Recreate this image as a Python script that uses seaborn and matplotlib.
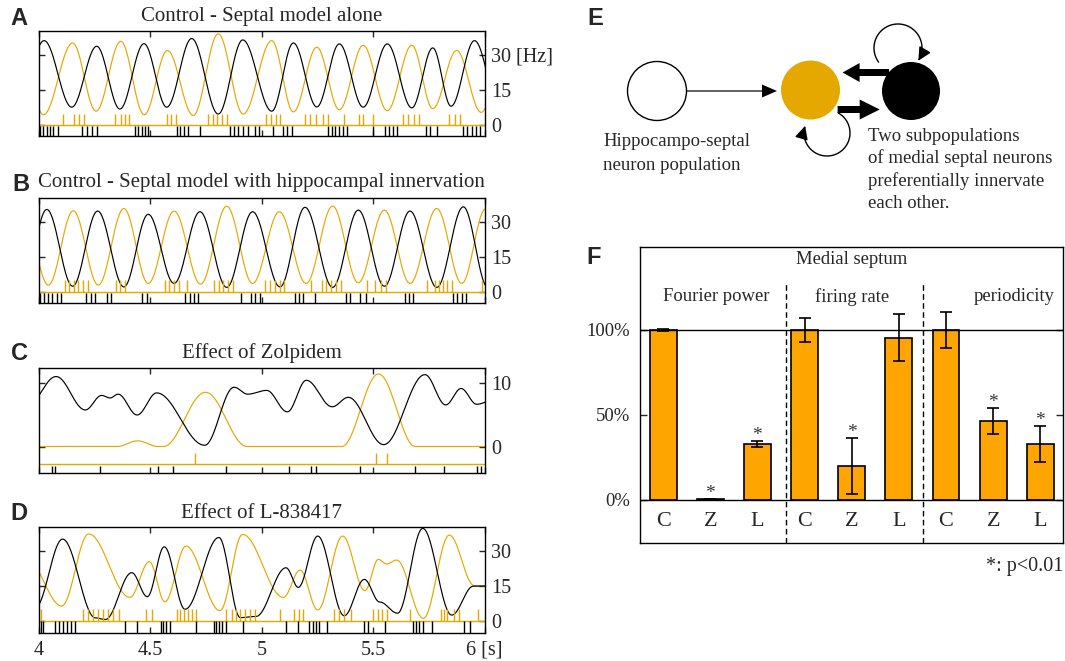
import numpy as np
import matplotlib
matplotlib.use("Agg")
import matplotlib.pyplot as plt
import seaborn as sns
from matplotlib.patches import Circle, FancyArrow, FancyArrowPatch
from matplotlib.path import Path

# ------------------------------------------------------------------ data
# rate curves: extrema (time [s], rate [Hz])
A_black_t = [3.905, 4.025, 4.149, 4.261, 4.365, 4.473, 4.575, 4.687, 4.806, 4.916, 5.046, 5.143, 5.248, 5.349, 5.456, 5.564, 5.674, 5.768, 5.850, 5.955, 6.070]
A_black_v = [7.0, 36.0, 7.7, 33.6, 6.9, 34.7, 7.7, 36.9, 4.8, 36.3, 6.0, 35.0, 7.8, 34.6, 7.7, 34.6, 7.4, 32.9, 8.1, 36.0, 7.0]
A_orange_t = [3.915, 4.022, 4.153, 4.258, 4.369, 4.474, 4.578, 4.694, 4.806, 4.918, 5.046, 5.143, 5.248, 5.349, 5.456, 5.564, 5.674, 5.768, 5.875, 5.985, 6.100]
A_orange_v = [34.0, 4.5, 35.0, 6.0, 35.7, 4.5, 31.8, 4.2, 38.9, 4.8, 36.0, 5.7, 33.2, 6.6, 34.0, 6.2, 34.0, 7.1, 31.8, 5.5, 34.0]

B_black_t = [3.930, 4.037, 4.153, 4.265, 4.383, 4.492, 4.608, 4.724, 4.844, 4.960, 5.083, 5.195, 5.319, 5.434, 5.551, 5.666, 5.786, 5.905, 6.015, 6.130]
B_black_v = [2.5, 35.3, 2.4, 34.6, 2.1, 33.2, 3.6, 34.3, 1.9, 34.3, 2.1, 36.2, 1.9, 35.0, 2.4, 34.6, 1.9, 36.4, 1.9, 35.0]
B_orange_t = [3.930, 4.044, 4.156, 4.268, 4.383, 4.492, 4.608, 4.727, 4.844, 4.960, 5.080, 5.200, 5.319, 5.434, 5.551, 5.666, 5.786, 5.898, 6.005, 6.120]
B_orange_v = [35.0, 2.9, 34.7, 2.9, 35.7, 3.6, 34.6, 3.3, 36.7, 3.6, 34.3, 3.6, 36.7, 3.9, 35.0, 3.6, 35.7, 3.6, 35.5, 3.5]

C_black_t = [3.950, 4.079, 4.210, 4.283, 4.321, 4.357, 4.442, 4.530, 4.745, 4.877, 4.938, 5.023, 5.116, 5.201, 5.317, 5.389, 5.548, 5.733, 5.826, 5.895, 5.965, 6.050]
C_black_v = [6.5, 11.1, 5.8, 8.1, 7.7, 8.3, 5.0, 8.5, 0.2, 9.4, 8.3, 8.9, 5.5, 10.5, 6.3, 7.8, 0.3, 11.4, 6.6, 9.2, 6.7, 7.5]
C_orange_t = [3.900, 4.352, 4.444, 4.536, 4.560, 4.749, 4.935, 5.360, 5.525, 5.690, 6.100]
C_orange_v = [0.0, 0.0, 0.9, 0.0, 0.0, 8.6, 0.0, 0.0, 11.5, 0.0, 0.0]

D_black_t = [3.985, 4.108, 4.255, 4.300, 4.418, 4.488, 4.564, 4.657, 4.809, 4.905, 4.975, 5.110, 5.165, 5.252, 5.371, 5.461, 5.530, 5.610, 5.723, 5.853, 5.950, 6.050]
D_black_v = [5.5, 35.0, 1.2, 0.5, 20.6, 10.3, 31.7, 4.9, 35.7, 1.3, 1.8, 22.7, 14.3, 36.3, 2.1, 17.7, 8.0, 3.2, 39.6, 2.4, 14.8, 15.0]
D_orange_t = [3.950, 4.104, 4.225, 4.410, 4.497, 4.567, 4.661, 4.814, 4.915, 5.098, 5.173, 5.252, 5.364, 5.464, 5.524, 5.561, 5.606, 5.726, 5.842, 5.955, 6.050]
D_orange_v = [26.0, 6.3, 37.2, 10.0, 25.3, 8.1, 32.0, 4.3, 37.0, 10.0, 21.7, 4.6, 36.3, 12.9, 26.3, 24.3, 26.0, 1.0, 36.7, 15.0, 14.5]

# spike times [s]
A_orange_spikes = [4.112, 4.161, 4.182, 4.204, 4.345, 4.368, 4.388, 4.408, 4.574, 4.596, 4.615, 4.762, 4.783, 4.800, 4.823, 4.845,
                   5.022, 5.043, 5.063, 5.084, 5.195, 5.217, 5.244, 5.274, 5.296, 5.369, 5.435, 5.457, 5.502, 5.636, 5.658, 5.682,
                   5.707, 5.840, 5.866, 5.892]
A_black_spikes = [4.007, 4.022, 4.037, 4.052, 4.066, 4.089, 4.194, 4.216, 4.239, 4.261, 4.433, 4.448, 4.463, 4.478, 4.492, 4.620,
                  4.635, 4.652, 4.672, 4.724, 4.859, 4.877, 4.896, 4.918, 4.941, 4.971, 4.990, 5.053, 5.098, 5.116, 5.135, 5.300,
                  5.315, 5.330, 5.349, 5.367, 5.382, 5.501, 5.554, 5.573, 5.591, 5.606, 5.738, 5.756, 5.786, 5.905, 5.923, 5.943,
                  5.962, 5.980]
B_orange_spikes = [4.117, 4.137, 4.158, 4.179, 4.200, 4.222, 4.346, 4.366, 4.386, 4.568, 4.587, 4.606, 4.628, 4.665, 4.789, 4.809,
                   4.828, 4.850, 4.870, 5.016, 5.038, 5.061, 5.085, 5.101, 5.224, 5.270, 5.291, 5.313, 5.334, 5.355, 5.473, 5.509,
                   5.534, 5.558, 5.741, 5.778, 5.794, 5.812, 5.832, 5.854, 5.988]
B_black_spikes = [4.008, 4.025, 4.043, 4.061, 4.081, 4.103, 4.214, 4.235, 4.255, 4.307, 4.325, 4.465, 4.485, 4.659, 4.679, 4.697,
                  4.717, 4.909, 4.955, 4.972, 4.993, 5.150, 5.170, 5.187, 5.240, 5.377, 5.399, 5.442, 5.469, 5.644, 5.663, 5.680,
                  5.859, 5.877, 5.897, 5.915]
C_orange_spikes = [4.702, 5.514, 5.563]
C_black_spikes = [4.059, 4.074, 4.275, 4.537, 4.604, 4.841, 5.123, 5.224, 5.244, 5.440, 5.687, 5.818, 5.965, 5.986]
D_orange_spikes = [4.010, 4.198, 4.220, 4.243, 4.267, 4.289, 4.313, 4.333, 4.359, 4.484, 4.507, 4.619, 4.636, 4.652, 4.670, 4.688,
                   4.706, 4.843, 4.868, 4.886, 4.904, 4.926, 4.950, 4.973, 5.083, 5.147, 5.170, 5.188, 5.325, 5.348, 5.370, 5.401,
                   5.499, 5.522, 5.542, 5.564, 5.666, 5.805, 5.818, 5.832, 5.861, 5.886, 5.969]
D_black_spikes = [4.009, 4.020, 4.076, 4.093, 4.109, 4.128, 4.144, 4.164, 4.387, 4.441, 4.548, 4.560, 4.572, 4.591, 4.708, 4.788,
                  4.798, 4.809, 4.823, 4.843, 4.919, 5.110, 5.164, 5.213, 5.231, 5.244, 5.256, 5.294, 5.461, 5.477, 5.552, 5.679,
                  5.693, 5.707, 5.726, 5.766, 5.909, 5.937]

time_ticks = [4, 4.5, 5, 5.5, 6]
time_tick_labels = ["4", "4.5", "5", "5.5", "6 [s]"]

# panel F
F_categories = ["C", "Z", "L", "C", "Z", "L", "C", "Z", "L"]
F_groups = ["Fourier power", "firing rate", "periodicity"]
F_values = [100.0, 0.4, 33.0, 100.0, 20.2, 95.5, 100.0, 46.5, 33.0]
F_errors = [0.6, 0.2, 1.8, 7.3, 16.5, 13.8, 10.6, 7.9, 10.8]
F_significant = [False, True, True, False, True, False, False, True, True]
F_yticks = [0, 50, 100]
F_yticklabels = ["0%", "50%", "100%"]

# ------------------------------------------------------------------ style
W, H = 1065, 661
sns.set_theme(style="white")
plt.rcParams["font.family"] = ["Liberation Serif", "DejaVu Serif"]
plt.rcParams["axes.linewidth"] = 1.0
ORANGE = "#E5A800"
BAR = "#FFA500"
SANS = ["Liberation Sans", "DejaVu Sans"]

fig = plt.figure(figsize=(W / 100, H / 100), dpi=100)


def rect(l, t, r, b):
    return [l / W, 1 - b / H, (r - l) / W, (b - t) / H]


def fx(x):
    return x / W


def fy(y):
    return 1 - y / H


def smooth(ts, vs, n=40):
    xs, ys = [], []
    for i in range(len(ts) - 1):
        u = np.linspace(0, 1, n, endpoint=False)
        w = (1 - np.cos(np.pi * u)) / 2
        xs.append(ts[i] + (ts[i + 1] - ts[i]) * u)
        ys.append(vs[i] + (vs[i + 1] - vs[i]) * w)
    xs.append([ts[-1]])
    ys.append([vs[-1]])
    return np.concatenate(xs), np.concatenate(ys)


def time_panel(box, bt, bv, ot, ov, bsp, osp, ylim, yticks, ylabels, raster, show_x):
    ax = fig.add_axes(rect(*box))
    x, y = smooth(ot, ov)
    sns.lineplot(x=x, y=y, ax=ax, color=ORANGE, lw=0.85, estimator=None, sort=False)
    x, y = smooth(bt, bv)
    sns.lineplot(x=x, y=y, ax=ax, color="black", lw=0.85, estimator=None, sort=False)
    base, otop, btop = raster
    ax.axhline(base, color=ORANGE, lw=1.0)
    ax.vlines(osp, base, otop, color=ORANGE, lw=1.0)
    ax.vlines(bsp, ylim[0], btop, color="black", lw=1.0)
    ax.set_xlim(4, 6)
    ax.set_ylim(*ylim)
    ax.set_xticks(time_ticks)
    ax.set_xticklabels(time_tick_labels if show_x else [])
    ax.set_yticks(yticks)
    ax.set_yticklabels(ylabels)
    ax.tick_params(axis="y", direction="in", left=True, right=True, labelleft=False,
                   labelright=True, length=4, width=1, labelsize=14.5, pad=5)
    ax.tick_params(axis="x", direction="in", top=True, bottom=True, length=4, width=1,
                   labelbottom=show_x, labelsize=14.5, pad=5.5)
    for s in ax.spines.values():
        s.set_color("black")
        s.set_linewidth(1.0)
    ax.set_xlabel("")
    ax.set_ylabel("")
    return ax


time_panel((38.5, 31, 484.5, 136.3), A_black_t, A_black_v, A_orange_t, A_orange_v,
           A_black_spikes, A_orange_spikes, (-4.7, 40.1), [0, 15, 30], ["0", "15", "30 [Hz]"],
           (0, 4.8, -0.3), False)
time_panel((38.5, 198, 484.5, 303), B_black_t, B_black_v, B_orange_t, B_orange_v,
           B_black_spikes, B_orange_spikes, (-4.8, 40.2), [0, 15, 30], ["0", "15", "30"],
           (0, 5.0, -0.3), False)
time_panel((38.5, 368, 484.5, 473), C_black_t, C_black_v, C_orange_t, C_orange_v,
           C_black_spikes, C_orange_spikes, (-4.2, 12.45), [0, 10], ["0", "10"],
           (-2.84, -1.05, -3.1), False)
time_panel((38.5, 527, 484.5, 633), D_black_t, D_black_v, D_orange_t, D_orange_v,
           D_black_spikes, D_orange_spikes, (-5.3, 40.2), [0, 15, 30], ["0", "15", "30"],
           (0, 5.0, -0.3), True)

titles = [("Control - Septal model alone", 16), ("Control - Septal model with hippocampal innervation", 183),
          ("Effect of Zolpidem", 353), ("Effect of L-838417", 513)]
for t, y in titles:
    fig.text(fx(261.5), fy(y), t, fontsize=15, ha="center", va="center")

for lab, x, y in [("A", 19, 18.5), ("B", 21, 184), ("C", 19, 354), ("D", 19, 514), ("E", 595, 18.5), ("F", 594, 258)]:
    fig.text(fx(x), fy(y), lab, fontsize=17, fontweight="bold", family=SANS, ha="center", va="center")

# ------------------------------------------------------------------ panel E (diagram, pixel coordinates)
axe = fig.add_axes(rect(580, 0, 1065, 230))
axe.set_xlim(580, 1065)
axe.set_ylim(230, 0)
axe.axis("off")
axe.add_patch(Circle((657, 91), 29.5, facecolor="white", edgecolor="black", lw=1.0))
axe.add_patch(Circle((810.5, 90), 29.5, facecolor=ORANGE, edgecolor="none"))
axe.add_patch(Circle((911, 91), 29.0, facecolor="black", edgecolor="none"))
axe.add_patch(FancyArrow(686.5, 91, 777 - 686.5, 0, width=1.2, head_width=13, head_length=15,
                         length_includes_head=True, color="black", lw=0))
axe.add_patch(FancyArrow(889, 72.5, 842.6 - 889, 0, width=7, head_width=19, head_length=17,
                         length_includes_head=True, color="black", lw=0))
axe.add_patch(FancyArrow(837.6, 109.5, 879.7 - 837.6, 0, width=7, head_width=20, head_length=20,
                         length_includes_head=True, color="black", lw=0))


def loop(cx, cy, r, a0, a1):
    th = np.radians(np.linspace(a0, a1, 80))
    pts = np.column_stack([cx + r * np.cos(th), cy - r * np.sin(th)])
    p = FancyArrowPatch(path=Path(pts), arrowstyle="-|>,head_length=5,head_width=2.5",
                        color="black", lw=1.0, mutation_scale=1.6)
    axe.add_patch(p)


loop(827, 133, 23, 61, -198)
loop(898, 48, 24, 216, -32)

for txt, y in [("Hippocampo-septal", 141.4), ("neuron population", 165)]:
    axe.text(603, y, txt, fontsize=13.5, ha="left", va="center")
for txt, y in [("Two subpopulations", 136.4), ("of medial septal neurons", 158.5),
               ("preferentially innervate", 181.5), ("each other.", 203.7)]:
    axe.text(868, y, txt, fontsize=13.5, ha="left", va="center")

# ------------------------------------------------------------------ panel F
axf = fig.add_axes(rect(640, 246.7, 1063, 543))
pos = np.arange(len(F_values))
sns.barplot(x=pos, y=F_values, ax=axf, color=BAR, edgecolor="black", linewidth=1.2,
            width=0.57, saturation=1, errorbar=None)
axf.errorbar(pos, F_values, yerr=F_errors, fmt="none", ecolor="black", elinewidth=1.2,
             capsize=4, capthick=1.2)
axf.set_xlim(-0.49, 8.48)
axf.set_ylim(-25.3, 149)
axf.axhline(100, color="black", lw=1.0)
axf.axhline(0, color="black", lw=1.0)
for xs in [2.61, 5.51]:
    axf.plot([xs, xs], [-25.3, 128], color="black", lw=1.0, ls=(0, (4, 2.5)))
axf.set_xticks([])
axf.set_yticks(F_yticks)
axf.set_yticklabels(F_yticklabels)
axf.tick_params(axis="y", direction="in", left=True, right=True, length=5, width=1,
                labelsize=13.4, pad=7)
for s in axf.spines.values():
    s.set_color("black")
    s.set_linewidth(1.0)
axf.set_xlabel("")
axf.set_ylabel("")
for p, c in zip(pos, F_categories):
    axf.text(p, -12.8, c, fontsize=16, ha="center", va="center")
for p, v, e, sig in zip(pos, F_values, F_errors, F_significant):
    if sig:
        axf.text(p, v + e + 0.5, "*", fontsize=14, ha="center", va="baseline", color="0.2")
axf.text(4.0, 141.6, "Medial septum", fontsize=13.4, ha="center", va="center")
for g, x in zip(F_groups, [1.125, 4.0, 7.45]):
    axf.text(x, 119.6, g, fontsize=13.4, ha="center", va="center")
fig.text(fx(1063), fy(567), "*: p<0.01", fontsize=14.5, ha="right", va="center")

fig.savefig("out.png", dpi=100)
